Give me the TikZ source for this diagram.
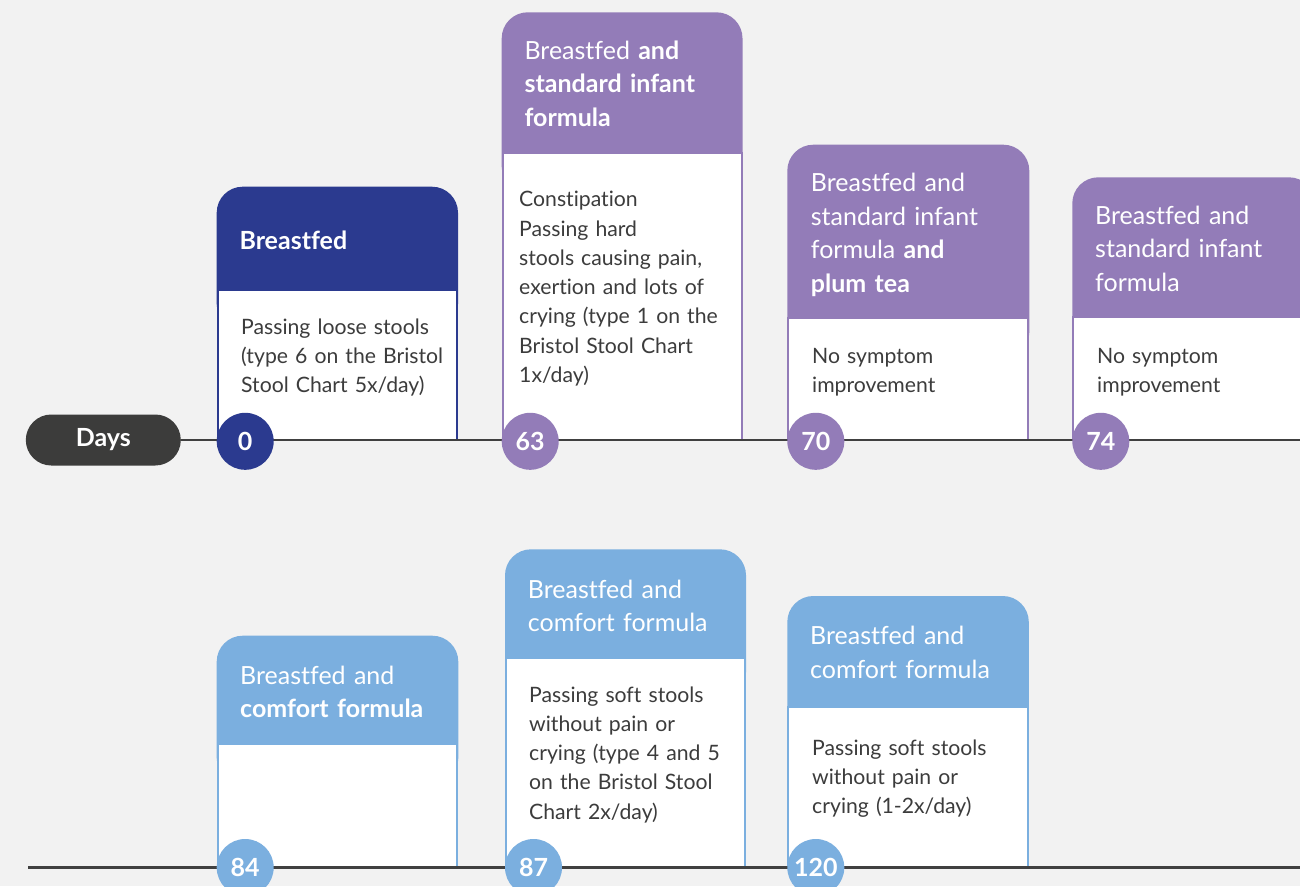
\documentclass[tikz,border=0pt]{standalone}
\usepackage{fontspec}
\setmainfont{Lato}[Ligatures={CommonOff}]

\definecolor{bg}{HTML}{F2F2F2}
\definecolor{navy}{HTML}{2B3A8F}
\definecolor{lilac}{HTML}{937CB8}
\definecolor{sky}{HTML}{7BAFDF}
\definecolor{ink}{HTML}{3C3C3C}
\definecolor{axis}{HTML}{404040}
\definecolor{pillgrey}{HTML}{3C3C3B}

\tikzset{
  head/.style={anchor=base west, inner sep=0pt, text width=235pt, align=left,
    text=white, font=\fontsize{25}{33.6}\selectfont},
  body/.style={anchor=base west, inner sep=0pt, text width=235pt, align=left,
    text=ink, font=\fontsize{21.2}{29.3}\selectfont},
  daynum/.style={circle, minimum size=57pt, inner sep=0pt, text=white,
    font=\bfseries\fontsize{25}{25}\selectfont},
  pill/.style={rounded corners=25.5pt, minimum width=155pt, minimum height=51pt,
    inner sep=0pt, fill=pillgrey, text=white, font=\bfseries\fontsize{25}{25}\selectfont},
  axisline/.style={draw=axis, line width=2.7pt},
}

% card: #1 colour, #2 left, #3 right, #4 top, #5 header bottom, #6 timeline y
\newcommand\tlcard[6]{%
  \fill[#1, rounded corners=26pt] (#2,#4) rectangle (#3,#5+40);
  \filldraw[fill=white, draw=#1, line width=2pt] (#2+1,#5) rectangle (#3-1,#6);
}

\begin{document}
\begin{tikzpicture}[x=1pt, y=-1pt]
  \useasboundingbox (0,0) rectangle (1300,886);
  \clip (0,0) rectangle (1300,886);
  \fill[bg] (0,0) rectangle (1300,886);

  % upper row of cards
  \tlcard{navy}{216.7}{458}{186.7}{290}{440}
  \tlcard{lilac}{501.7}{742.5}{12.3}{152.7}{440}
  \tlcard{lilac}{787.3}{1029.3}{144.7}{318.3}{440}
  \tlcard{lilac}{1072.3}{1315}{177.3}{317.3}{440}

  % lower row of cards
  \tlcard{sky}{216.7}{458.3}{635.7}{744}{867.5}
  \tlcard{sky}{505}{746}{549.3}{658.3}{867.5}
  \tlcard{sky}{787.3}{1028.8}{596}{707}{867.5}

  % card texts
  \node[head] (h0) at (239.3,249.3) {\textbf{Breastfed}};
  \node[body] (b0) at (241,334) {Passing loose stools\\(type 6 on the Bristol\\Stool Chart 5x/day)};

  \node[head] (h63) at (524.3,59.3) {Breastfed \textbf{and}\\\textbf{standard infant}\\\textbf{formula}};
  \node[body] (b63) at (519,206.7) {Constipation\\Passing hard\\stools causing pain,\\exertion and lots of\\crying (type 1 on the\\Bristol Stool Chart\\1x/day)};

  \node[head] (h70) at (810.7,191.7) {Breastfed and\\standard infant\\formula \textbf{and}\\\textbf{plum tea}};
  \node[body] (b70) at (812,363) {No symptom\\improvement};

  \node[head] (h74) at (1095,224.3) {Breastfed and\\standard infant\\formula};
  \node[body] (b74) at (1097,363) {No symptom\\improvement};

  \node[head] (h84) at (240,684) {Breastfed and\\\textbf{comfort formula}};

  \node[head] (h87) at (527.7,598.3) {Breastfed and\\comfort formula};
  \node[body] (b87) at (529,702) {Passing soft stools\\without pain or\\crying (type 4 and 5\\on the Bristol Stool\\Chart 2x/day)};

  \node[head] (h120) at (810,644.7) {Breastfed and\\comfort formula};
  \node[body] (b120) at (812,755) {Passing soft stools\\without pain or\\crying (1-2x/day)};

  % timelines
  \node[pill] (days) at (103.3,440) {Days};
  \coordinate (end1) at (1300,440);
  \coordinate (start2) at (28,867.5);
  \coordinate (end2) at (1300,867.5);
  \draw[axisline] (days.east) -- (end1);
  \draw[axisline] (start2) -- (end2);

  % day markers
  \node[daynum, fill=navy]  (d0)   at (245.2,441.3) {0};
  \node[daynum, fill=lilac] (d63)  at (530.2,441.3) {63};
  \node[daynum, fill=lilac] (d70)  at (815.8,441.3) {70};
  \node[daynum, fill=lilac] (d74)  at (1100.8,441.3) {74};
  \node[daynum, fill=sky]   (d84)  at (245.2,867.5) {84};
  \node[daynum, fill=sky]   (d87)  at (533.5,867.5) {87};
  \node[daynum, fill=sky]   (d120) at (815.8,867.5) {120};
\end{tikzpicture}
\end{document}
